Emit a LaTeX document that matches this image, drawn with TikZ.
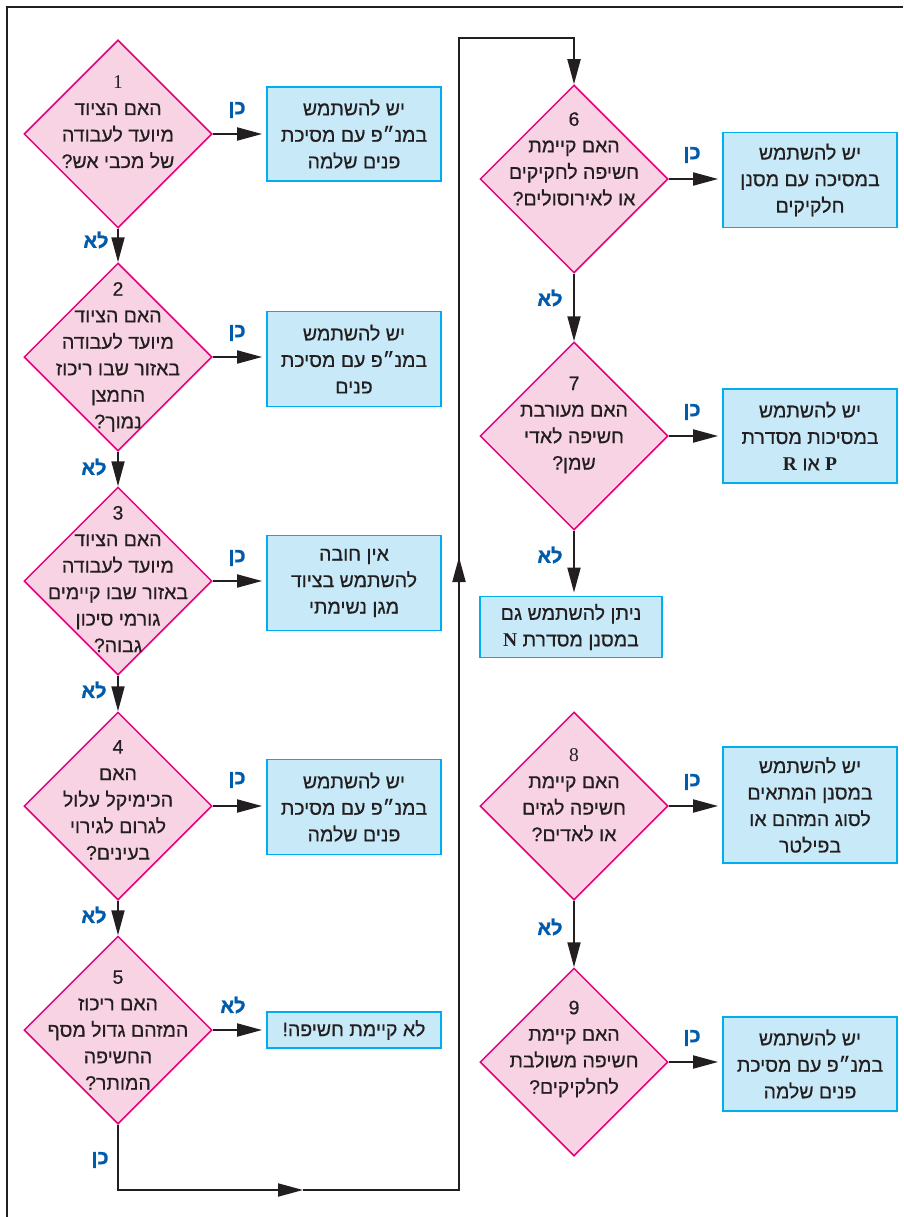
\documentclass[tikz,border=0pt]{standalone}
\usepackage{fontspec}
\setmainfont{Liberation Sans}
\newfontfamily\hebfont[Script=Hebrew, FakeBold=0.5]{Liberation Sans}
\newfontfamily\heblbl[Script=Hebrew, FakeBold=1.5]{Liberation Sans}
\newfontfamily\latserif{Liberation Serif}
\TeXXeTstate=1
\usetikzlibrary{shapes.geometric,arrows.meta}
\definecolor{dfill}{HTML}{F8D3E3}
\definecolor{dline}{HTML}{E5007D}
\definecolor{bfill}{HTML}{C8E9F8}
\definecolor{bline}{HTML}{00AEEF}
\definecolor{lblue}{HTML}{005BAA}
\definecolor{ink}{HTML}{231F20}
\newcommand{\heb}[1]{\beginR #1\endR}
\newcommand{\sernum}[1]{{\latserif #1}}
\newcommand{\serbold}[1]{{\latserif\bfseries #1}}
\begin{document}
\begin{tikzpicture}[x=1pt,y=-1pt,
  dia/.style={diamond, shape aspect=1, minimum width=188pt, minimum height=188pt,
    inner sep=0pt, draw=dline, fill=dfill, line width=1.5pt},
  dtext/.style={align=center, font=\hebfont\fontsize{19.5}{26.5}\selectfont, text=ink, inner sep=0pt},
  box/.style={rectangle, draw=bline, fill=bfill, line width=1.8pt, inner sep=0pt,
    minimum width=174pt, align=center, font=\hebfont\fontsize{19.5}{26.5}\selectfont, text=ink},
  lbl/.style={font=\heblbl\bfseries\fontsize{20}{20}\selectfont, text=lblue, inner sep=0pt},
  conn/.style={draw=ink, line width=1.9pt},
  arr/.style={conn, -{Triangle[length=25pt,width=13pt]}},
  frame/.style={draw=ink, line width=2.4pt}
]
\useasboundingbox (0,0) rectangle (903,1217);
\draw[frame] (903,7) -- (7,7) -- (7,1217);

% diamonds
\node[dia] (d1) at (118,134) {};
\node[dia] (d2) at (118,357) {};
\node[dia] (d3) at (118,581) {};
\node[dia] (d4) at (118,806) {};
\node[dia] (d5) at (118,1030) {};
\node[dia] (d6) at (574,179) {};
\node[dia] (d7) at (574,436) {};
\node[dia] (d8) at (574,806) {};
\node[dia] (d9) at (574,1062) {};

\node[dtext] (t1) at (118,122) {\sernum{1}\\ \heb{האם הציוד}\\ \heb{מיועד לעבודה}\\ \heb{של מכבי אש?}};
\node[dtext] (t2) at (118,357) {2\\ \heb{האם הציוד}\\ \heb{מיועד לעבודה}\\ \heb{באזור שבו ריכוז}\\ \heb{החמצן}\\ \heb{נמוך?}};
\node[dtext] (t3) at (118,579) {3\\ \heb{האם הציוד}\\ \heb{מיועד לעבודה}\\ \heb{באזור שבו קיימים}\\ \heb{גורמי סיכון}\\ \heb{גבוה?}};
\node[dtext] (t4) at (118,800) {4\\ \heb{האם}\\ \heb{הכימיקל עלול}\\ \heb{לגרום לגירוי}\\ \heb{בעינים?}};
\node[dtext] (t5) at (118,1030) {5\\ \heb{האם ריכוז}\\ \heb{המזהם גדול מסף}\\ \heb{החשיפה}\\ \heb{המותר?}};
\node[dtext] (t6) at (574,159) {6\\ \heb{האם קיימת}\\ \heb{חשיפה לחקיקים}\\ \heb{או לאירוסולים?}};
\node[dtext] (t7) at (574,425) {7\\ \heb{האם מעורבת}\\ \heb{חשיפה לאדי}\\ \heb{שמן?}};
\node[dtext] (t8) at (574,795) {\sernum{8}\\ \heb{האם קיימת}\\ \heb{חשיפה לגזים}\\ \heb{או לאדים?}};
\node[dtext] (t9) at (574,1049) {9\\ \heb{האם קיימת}\\ \heb{חשיפה משולבת}\\ \heb{לחלקיקים?}};

% boxes
\node[box, minimum height=94pt] (b1) at (354,134) {\heb{יש להשתמש}\\ \heb{במנ״פ עם מסיכת}\\ \heb{פנים שלמה}};
\node[box, minimum height=95pt] (b2) at (354,359) {\heb{יש להשתמש}\\ \heb{במנ״פ עם מסיכת}\\ \heb{פנים}};
\node[box, minimum height=95pt] (b3) at (354,583) {\heb{אין חובה}\\ \heb{להשתמש בציוד}\\ \heb{מגן נשימתי}};
\node[box, minimum height=95pt] (b4) at (354,807) {\heb{יש להשתמש}\\ \heb{במנ״פ עם מסיכת}\\ \heb{פנים שלמה}};
\node[box, minimum height=36pt] (b5) at (354,1030) {\heb{לא קיימת חשיפה!}};
\node[box, minimum height=95pt] (b6) at (810,180) {\heb{יש להשתמש}\\ \heb{במסיכה עם מסנן}\\ \heb{חלקיקים}};
\node[box, minimum height=94pt] (b7) at (810,436) {\heb{יש להשתמש}\\ \heb{במסיכות מסדרת}\\ \heb{\serbold{P} או \serbold{R}}};
\node[box, minimum width=182pt, minimum height=61pt] (bN) at (571,627) {\heb{ניתן להשתמש גם}\\ \heb{במסנן מסדרת \serbold{N}}};
\node[box, minimum height=116pt] (b8) at (810,805) {\heb{יש להשתמש}\\ \heb{במסנן המתאים}\\ \heb{לסוג המזהם או}\\ \heb{בפילטר}};
\node[box, minimum height=94pt] (b9) at (810,1064) {\heb{יש להשתמש}\\ \heb{במנ״פ עם מסיכת}\\ \heb{פנים שלמה}};

% yes/no connectors
\foreach \d/\b in {d1/b1,d2/b2,d3/b3,d4/b4,d5/b5,d6/b6,d7/b7,d8/b8,d9/b9}
  \draw[arr, shorten >=4pt] (\d.east) -- (\d.east -| \b.west);
\draw[arr] (d1.south) -- (d2.north);
\draw[arr] (d2.south) -- (d3.north);
\draw[arr] (d3.south) -- (d4.north);
\draw[arr] (d4.south) -- (d5.north);
\draw[arr] (d6.south) -- (d7.north);
\draw[arr, shorten >=3pt] (d7.south) -- (d7.south |- bN.north);
\draw[arr] (d8.south) -- (d9.north);

% loop from 5 to 6
\coordinate (m1) at (303,1190);
\coordinate (lp) at (459,1190);
\coordinate (m2) at (459,557);
\coordinate (tp) at (574,38);
\draw[arr] (d5.south) |- (m1);
\draw[conn] (m1) -- (lp) -- (m2);
\draw[arr] (lp) -- (m2);
\draw[arr] (m2) |- (tp) -- (d6.north);

% labels
\node[lbl] (y1) at (237,110) {\heb{כן}};
\node[lbl] (y2) at (237,333) {\heb{כן}};
\node[lbl] (y3) at (237,558) {\heb{כן}};
\node[lbl] (y4) at (237,780) {\heb{כן}};
\node[lbl] (n5) at (233,1005) {\heb{לא}};
\node[lbl] (y6) at (692,155) {\heb{כן}};
\node[lbl] (y7) at (692,412) {\heb{כן}};
\node[lbl] (y8) at (692,782) {\heb{כן}};
\node[lbl] (y9) at (692,1038) {\heb{כן}};
\node[lbl] (n1) at (96,240) {\heb{לא}};
\node[lbl] (n2) at (94,467) {\heb{לא}};
\node[lbl] (n3) at (94,690) {\heb{לא}};
\node[lbl] (n4) at (94,915) {\heb{לא}};
\node[lbl] (y5) at (100,1160) {\heb{כן}};
\node[lbl] (n6) at (550,298) {\heb{לא}};
\node[lbl] (n7) at (550,555) {\heb{לא}};
\node[lbl] (n8) at (550,927) {\heb{לא}};
\end{tikzpicture}
\end{document}
